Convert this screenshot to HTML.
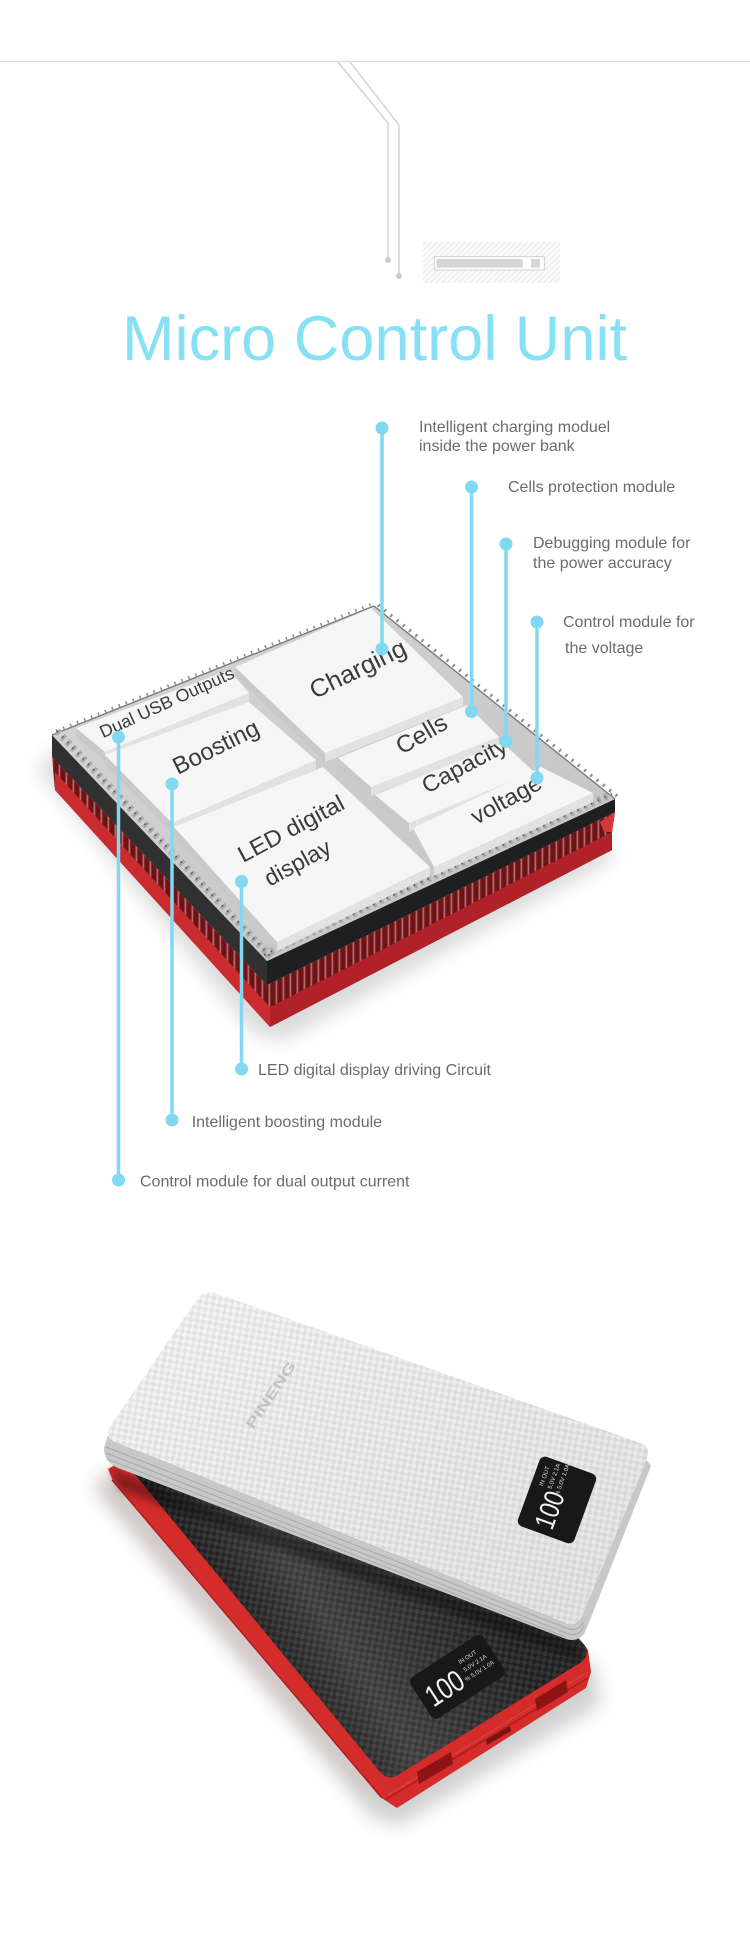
<!DOCTYPE html>
<html><head><meta charset="utf-8"><style>
html,body{margin:0;padding:0;background:#fff;}
svg{display:block;}
text{font-family:"Liberation Sans",Arial,sans-serif;}
</style></head><body>
<svg width="750" height="1942" viewBox="0 0 750 1942" xmlns="http://www.w3.org/2000/svg">
<defs>
  <pattern id="hatch" width="4" height="4" patternUnits="userSpaceOnUse" patternTransform="rotate(45)">
    <rect width="4" height="4" fill="#fafafa"/>
    <line x1="0" y1="0" x2="0" y2="4" stroke="#e0e0e0" stroke-width="1.2"/>
  </pattern>
  <pattern id="pins" width="7" height="60" patternUnits="userSpaceOnUse">
    <rect x="2.5" y="0" width="1.8" height="60" fill="#d49a9a" opacity="0.65"/>
  </pattern>
  <pattern id="chkW" width="9" height="9" patternUnits="userSpaceOnUse" patternTransform="rotate(-35)">
    <rect x="0" y="0" width="4.5" height="4.5" fill="#000" opacity="0.07"/>
    <rect x="4.5" y="4.5" width="4.5" height="4.5" fill="#000" opacity="0.07"/>
  </pattern>
  <pattern id="chkB" width="9" height="9" patternUnits="userSpaceOnUse" patternTransform="rotate(-35)">
    <rect x="0" y="0" width="4.5" height="4.5" fill="#fff" opacity="0.09"/>
    <rect x="4.5" y="4.5" width="4.5" height="4.5" fill="#fff" opacity="0.09"/>
  </pattern>
  <linearGradient id="gW" x1="0" y1="0" x2="1" y2="1">
    <stop offset="0" stop-color="#f6f6f6"/>
    <stop offset="1" stop-color="#e4e4e4"/>
  </linearGradient>
  <linearGradient id="gB" gradientUnits="userSpaceOnUse" x1="200" y1="1640" x2="420" y2="1500">
    <stop offset="0" stop-color="#0c0c0c"/>
    <stop offset="0.45" stop-color="#3c3c3c"/>
    <stop offset="1" stop-color="#202020"/>
  </linearGradient>
  <linearGradient id="gBoard" x1="0" y1="0" x2="1" y2="1">
    <stop offset="0" stop-color="#d6d6d6"/>
    <stop offset="1" stop-color="#c2c2c2"/>
  </linearGradient>
  <filter id="bl" x="-30%" y="-30%" width="160%" height="160%"><feGaussianBlur stdDeviation="9"/></filter>
  <filter id="bl2" x="-30%" y="-30%" width="160%" height="160%"><feGaussianBlur stdDeviation="4"/></filter>
</defs>

<!-- top decoration -->
<line x1="0" y1="61.5" x2="750" y2="61.5" stroke="#dcdcdc" stroke-width="1.3"/>
<polyline points="338,62 388,123 388,260" fill="none" stroke="#d2d2d2" stroke-width="1.4"/>
<polyline points="350,62 399,125 399,276" fill="none" stroke="#d2d2d2" stroke-width="1.4"/>
<circle cx="388" cy="260" r="3" fill="#cccccc"/>
<circle cx="399" cy="276" r="3" fill="#cccccc"/>
<rect x="422.7" y="241.7" width="137.3" height="41.3" fill="url(#hatch)"/>
<rect x="434.3" y="256.7" width="110" height="13.3" fill="#fff" stroke="#cfcfcf" stroke-width="1"/>
<rect x="436.7" y="259" width="86" height="8.7" fill="#d6d6d6"/>
<rect x="531" y="259" width="9" height="8.7" fill="#d6d6d6"/>

<!-- title -->
<text x="122" y="360" font-size="63" fill="#88e0f5" textLength="505" lengthAdjust="spacingAndGlyphs">Micro Control Unit</text>

<!-- chip shadow -->
<polygon points="38,770 255,1035 285,1040 612,860 600,820 60,745" fill="#000" opacity="0.14" filter="url(#bl)"/>

<!-- red base with pins -->
<polygon points="52,757 267,985 615,812 612,832 612,850 270,1027 55,790" fill="#6e1215"/>
<polygon points="52,757 267,985 615,812 612,832 612,850 270,1027 55,790" fill="url(#pins)"/>
<polygon points="55,772 270,1007 270,1027 55,790" fill="#c92b2f"/>
<polygon points="270,1007 612,832 612,850 270,1027" fill="#b02227"/>
<polygon points="600,822 615,812 612,832 604,832" fill="#d23a3a"/>

<!-- black board -->
<polygon points="52,735 267,961 267,985 52,757" fill="#303030"/>
<polygon points="267,961 615,799 615,812 267,985" fill="#1f1f1f"/>
<polygon points="52,735 374,606 615,799 267,961" fill="url(#gBoard)"/>
<!-- edge pins -->
<line x1="52" y1="735" x2="374" y2="606" stroke="#7a7a7a" stroke-width="1.4"/>
<line x1="374" y1="606" x2="615" y2="799" stroke="#7a7a7a" stroke-width="1.4"/>
<line x1="56" y1="731" x2="372" y2="604" stroke="#8a8a8a" stroke-width="3" stroke-dasharray="1.5 6"/>
<line x1="378" y1="605" x2="617" y2="796" stroke="#8a8a8a" stroke-width="3.5" stroke-dasharray="2 6"/>
<line x1="57" y1="731" x2="271" y2="957" stroke="#a9a9a9" stroke-width="7" stroke-dasharray="3.5 4"/>
<line x1="57" y1="731" x2="271" y2="957" stroke="#5a5a5a" stroke-width="2" stroke-dasharray="1.5 6"/>
<line x1="264" y1="955" x2="612" y2="794" stroke="#a9a9a9" stroke-width="7" stroke-dasharray="3.5 4"/>
<line x1="264" y1="955" x2="612" y2="794" stroke="#5a5a5a" stroke-width="2" stroke-dasharray="1.5 6"/>

<!-- modules: Charging -->
<polygon points="235,667 325,753 325,762 235,676" fill="#c9c9c9"/>
<polygon points="325,753 463,697 463,706 325,762" fill="#e2e2e2"/>
<polygon points="235,667 371,608 463,697 325,753" fill="#f6f6f6"/>
<!-- Dual USB -->
<polygon points="76,728 105,752 105,761 76,737" fill="#c9c9c9"/>
<polygon points="105,752 249,693 249,702 105,761" fill="#e2e2e2"/>
<polygon points="76,728 229,670 249,693 105,752" fill="#f6f6f6"/>
<!-- Boosting -->
<polygon points="105,755 172,823 172,832 105,764" fill="#c9c9c9"/>
<polygon points="172,823 316,760 316,769 172,832" fill="#e2e2e2"/>
<polygon points="105,755 249,702 316,760 172,823" fill="#f6f6f6"/>
<!-- Cells -->
<polygon points="338,758 371,787 371,796 338,767" fill="#c9c9c9"/>
<polygon points="371,787 499,737 499,746 371,796" fill="#e2e2e2"/>
<polygon points="338,758 467,705 499,737 371,787" fill="#f6f6f6"/>
<!-- Capacity -->
<polygon points="375,795 409,823 409,832 375,804" fill="#c9c9c9"/>
<polygon points="409,823 534,772 534,781 409,832" fill="#e2e2e2"/>
<polygon points="375,795 503,743 534,772 409,823" fill="#f6f6f6"/>
<!-- voltage -->
<polygon points="413,828 434,867 434,876 413,837" fill="#c9c9c9"/>
<polygon points="434,867 593,793 593,802 434,876" fill="#e2e2e2"/>
<polygon points="413,828 541,767 593,793 434,867" fill="#f6f6f6"/>
<!-- LED -->
<polygon points="174,827 277,942 277,951 174,836" fill="#c9c9c9"/>
<polygon points="277,942 430,867 430,876 277,951" fill="#e2e2e2"/>
<polygon points="174,827 323,767 430,867 277,942" fill="#f6f6f6"/>

<!-- module labels -->
<g fill="#3a3a3a">
<text transform="translate(314.8,699.3) rotate(-26)" font-size="25" textLength="104" lengthAdjust="spacingAndGlyphs">Charging</text>
<text transform="translate(103,738.3) rotate(-24.7)" font-size="17.5" textLength="146" lengthAdjust="spacingAndGlyphs">Dual USB Outputs</text>
<text transform="translate(177.8,775) rotate(-26.5)" font-size="24" textLength="93" lengthAdjust="spacingAndGlyphs">Boosting</text>
<text transform="translate(243,863) rotate(-28)" font-size="23" textLength="117" lengthAdjust="spacingAndGlyphs">LED digital</text>
<text transform="translate(269.6,886.7) rotate(-28.5)" font-size="23" textLength="72" lengthAdjust="spacingAndGlyphs">display</text>
<text transform="translate(401.7,755) rotate(-30)" font-size="24" textLength="55" lengthAdjust="spacingAndGlyphs">Cells</text>
<text transform="translate(427,794) rotate(-28)" font-size="23" textLength="93" lengthAdjust="spacingAndGlyphs">Capacity</text>
<text transform="translate(476.3,825) rotate(-29)" font-size="23" textLength="77" lengthAdjust="spacingAndGlyphs">voltage</text>
</g>

<!-- connectors -->
<g stroke="#80d9f1" stroke-width="3.5">
<line x1="382" y1="428" x2="382" y2="649"/>
<line x1="471.5" y1="487" x2="471.5" y2="711.5"/>
<line x1="506" y1="544" x2="506" y2="741.5"/>
<line x1="537" y1="622" x2="537" y2="778"/>
<line x1="241.5" y1="881.5" x2="241.5" y2="1069"/>
<line x1="172" y1="784" x2="172" y2="1120"/>
<line x1="118.5" y1="737" x2="118.5" y2="1180"/>
</g>
<g fill="#80d9f1">
<circle cx="382" cy="428" r="6.5"/><circle cx="382" cy="649" r="6.5"/>
<circle cx="471.5" cy="487" r="6.5"/><circle cx="471.5" cy="711.5" r="6.5"/>
<circle cx="506" cy="544" r="6.5"/><circle cx="506" cy="741.5" r="6.5"/>
<circle cx="537" cy="622" r="6.5"/><circle cx="537" cy="778" r="6.5"/>
<circle cx="241.5" cy="881.5" r="6.5"/><circle cx="241.5" cy="1069" r="6.5"/>
<circle cx="172" cy="784" r="6.5"/><circle cx="172" cy="1120" r="6.5"/>
<circle cx="118.5" cy="737" r="6.5"/><circle cx="118.5" cy="1180" r="6.5"/>
</g>

<!-- annotation labels -->
<g fill="#6b6b6b" font-size="16">
<text x="419" y="432">Intelligent charging moduel</text>
<text x="419" y="451">inside the power bank</text>
<text x="508" y="492">Cells protection module</text>
<text x="533" y="548">Debugging module for</text>
<text x="533" y="568">the power accuracy</text>
<text x="563" y="627">Control module for</text>
<text x="565" y="653">the voltage</text>
<text x="258" y="1075">LED digital display driving Circuit</text>
<text x="191.7" y="1127">Intelligent boosting module</text>
<text x="140" y="1186.5">Control module for dual output current</text>
</g>

<!-- ===== power banks ===== -->
<!-- shadows -->
<polygon points="95,1490 375,1820 400,1825 600,1705 595,1665 110,1470" fill="#000" opacity="0.18" filter="url(#bl)"/>
<polygon points="92,1480 110,1470 380,1790 365,1798" fill="#e05050" opacity="0.09" filter="url(#bl)"/>

<!-- black bank red body -->
<polygon points="108,1469 113,1481 380,1797 397,1808 586,1688 591,1672 588,1650 330,1340" fill="#d42b2b"/>
<line x1="112" y1="1480" x2="382" y2="1798" stroke="#a81a1a" stroke-width="1.2"/>
<line x1="385" y1="1800" x2="588" y2="1678" stroke="#a81a1a" stroke-width="1.2"/>
<line x1="388" y1="1795" x2="588" y2="1672" stroke="#e04444" stroke-width="1"/>
<!-- black top face -->
<path d="M128,1466 L380,1772 Q388,1781 398,1775 L580,1663 Q589,1657 586,1647 L330,1340 Z" fill="url(#gB)"/>
<path d="M128,1466 L380,1772 Q388,1781 398,1775 L580,1663 Q589,1657 586,1647 L330,1340 Z" fill="url(#chkB)"/>
<!-- ports -->
<polygon points="417,1772 451,1752 453,1764 419,1784" fill="#8e1414"/>
<polygon points="535,1699 566,1680 568,1692 537,1711" fill="#8e1414"/>
<polygon points="486,1740 510,1726 511,1731 487,1745" fill="#7a1010"/>
<!-- black screen -->
<g transform="translate(457.4,1676.75) rotate(-33)">
  <rect x="-43.5" y="-24.5" width="87" height="49" rx="6" fill="#181818"/>
  <text x="-37" y="13" font-size="30" fill="#f2f2f2" textLength="40" lengthAdjust="spacingAndGlyphs">100</text>
  <text x="9" y="-9" font-size="6" fill="#dddddd">IN  OUT</text>
  <text x="9" y="0" font-size="6" fill="#dddddd">5.0V 2.1A</text>
  <text x="5" y="9" font-size="6" fill="#dddddd">% 5.0V 1.0A</text>
</g>

<!-- shadow of white bank onto black -->
<polygon points="110,1468 576,1645 580,1660 120,1490" fill="#000" opacity="0.35" filter="url(#bl2)"/>

<!-- white bank side -->
<path d="M110.9,1425.4 Q103,1437 116,1442.2 L564,1622.8 Q577,1628 582.4,1615.1 L646.6,1459.9 L651,1466 L586,1630 Q580,1643 566,1639 L118,1468 Q104,1462 104,1448 Z" fill="#c8c8c8"/>
<g stroke="#a9a9a9" stroke-width="1" fill="none">
<path d="M106,1447 L566,1628 Q578,1633 583,1622"/>
<path d="M106,1453 L566,1633 Q579,1638 584,1626"/>
<path d="M107,1459 L566,1637"/>
</g>
<!-- white top face -->
<path d="M196.1,1300.6 Q204,1289 217.2,1293.7 L638.8,1442.3 Q652,1447 646.6,1459.9 L582.4,1615.1 Q577,1628 564,1622.8 L116,1442.2 Q103,1437 110.9,1425.4 Z" fill="url(#gW)"/>
<path d="M196.1,1300.6 Q204,1289 217.2,1293.7 L638.8,1442.3 Q652,1447 646.6,1459.9 L582.4,1615.1 Q577,1628 564,1622.8 L116,1442.2 Q103,1437 110.9,1425.4 Z" fill="url(#chkW)"/>
<!-- logo -->
<text transform="translate(253,1430) rotate(-56)" font-size="14" font-weight="bold" fill="#c4c4c4" textLength="78" lengthAdjust="spacingAndGlyphs">PINENG</text>
<!-- white screen -->
<g transform="translate(557,1500) rotate(-70)">
  <rect x="-37" y="-30" width="74" height="60" rx="6" fill="#181818"/>
  <text x="-31" y="6" font-size="28" fill="#f2f2f2" textLength="38" lengthAdjust="spacingAndGlyphs">100</text>
  <text x="8" y="-18" font-size="6" fill="#dddddd">IN  OUT</text>
  <text x="8" y="-9" font-size="6" fill="#dddddd">5.0V 2.1A</text>
  <text x="4" y="0" font-size="6" fill="#dddddd">% 5.0V 1.0A</text>
</g>
</svg>
</body></html>
